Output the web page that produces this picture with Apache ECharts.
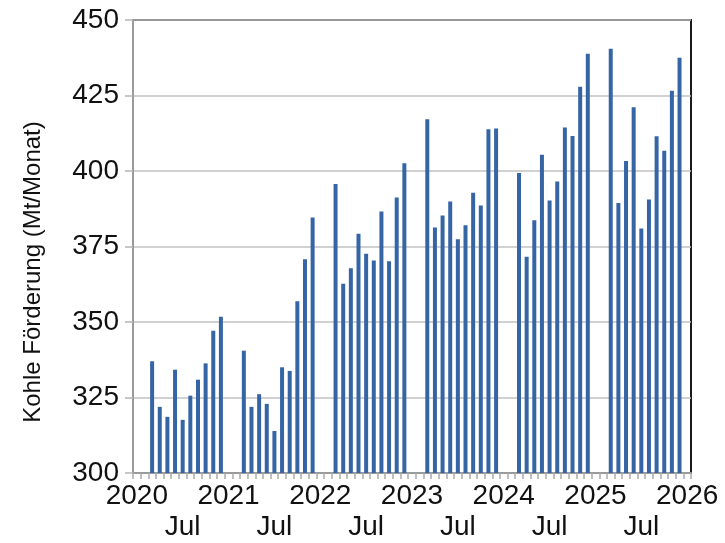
<!DOCTYPE html>
<html>
<head>
<meta charset="utf-8">
<script src="https://cdn.jsdelivr.net/npm/echarts@6/dist/echarts.min.js"></script>
<style>
  html, body { margin: 0; padding: 0; background: #fff; }
  #chart { width: 725px; height: 543px; }
</style>
</head>
<body>
<div id="chart"></div>
<script>
// Monthly coal output (Mt), March–December of each year (Jan/Feb are reported jointly)
const years = [2020, 2021, 2022, 2023, 2024, 2025];
const reportedMonths = [3, 4, 5, 6, 7, 8, 9, 10, 11, 12];
const output2020 = [337.0, 321.9, 318.6, 334.2, 317.6, 325.6, 330.9, 336.3, 347.1, 351.7];
const output2021 = [340.5, 321.9, 326.1, 322.9, 313.9, 335.0, 333.8, 356.9, 370.8, 384.6];
const output2022 = [395.7, 362.7, 367.8, 379.2, 372.6, 370.4, 386.6, 370.1, 391.2, 402.6];
const output2023 = [417.1, 381.3, 385.3, 389.9, 377.4, 382.0, 392.8, 388.6, 413.8, 414.1];
const output2024 = [399.3, 371.6, 383.7, 405.4, 390.2, 396.5, 414.4, 411.6, 427.9, 438.8];
const output2025 = [440.5, 389.4, 403.3, 421.1, 381.0, 390.6, 411.5, 406.7, 426.6, 437.5];
const yTicks = [300, 325, 350, 375, 400, 425, 450];
const axisTitle = 'Kohle Förderung (Mt/Monat)';

const outputByYear = [output2020, output2021, output2022, output2023, output2024, output2025];

// One category per month from Jan 2020 through Jan 2026
const categories = [];
const values = [];
years.forEach((y, yi) => {
  for (let m = 1; m <= 12; m++) {
    categories.push(y + '-' + m);
    const idx = reportedMonths.indexOf(m);
    values.push(idx >= 0 ? outputByYear[yi][idx] : null);
  }
});
categories.push((years[years.length - 1] + 1) + '-1');
values.push(null);

const FONT = '"Liberation Sans", Arial, sans-serif';

const chart = echarts.init(document.getElementById('chart'), null, { renderer: 'canvas' });
chart.setOption({
  animation: false,
  backgroundColor: '#ffffff',
  grid: {
    left: 133, right: 34, top: 20, bottom: 66,
    show: true, borderColor: '#1a1a1a', borderWidth: 2, backgroundColor: 'transparent'
  },
  xAxis: {
    type: 'category',
    data: categories,
    boundaryGap: true,
    axisLine: { show: true, lineStyle: { color: '#9a9a9a', width: 2 } },
    axisTick: { show: true, interval: 0, length: 6, lineStyle: { color: '#aaaaaa', width: 1.5 } },
    axisLabel: {
      interval: 0,
      hideOverlap: false,
      margin: 8,
      color: '#111',
      fontFamily: FONT,
      fontSize: 28,
      lineHeight: 31,
      verticalAlign: 'top',
      formatter: (v) => {
        const [y, m] = v.split('-');
        if (m === '1') return y;
        if (m === '7') return '\nJul';
        return '';
      }
    },
    splitLine: { show: false }
  },
  yAxis: {
    type: 'value',
    min: yTicks[0],
    max: yTicks[yTicks.length - 1],
    interval: yTicks[1] - yTicks[0],
    axisLine: { show: true, lineStyle: { color: '#9a9a9a', width: 2 } },
    axisTick: { show: true, length: 8, lineStyle: { color: '#b5b5b5', width: 1.5 } },
    axisLabel: { margin: 14, color: '#111', fontFamily: FONT, fontSize: 28 },
    splitLine: { show: true, lineStyle: { color: '#c2c2c2', width: 1.5 } }
  },
  graphic: [{
    type: 'text',
    x: 33, y: 272,
    rotation: Math.PI / 2,
    style: {
      text: axisTitle,
      fill: '#111',
      font: '24px ' + FONT,
      textAlign: 'center',
      textVerticalAlign: 'middle'
    }
  }],
  series: [{
    type: 'bar',
    data: values,
    barWidth: 4,
    itemStyle: { color: '#3665a6' }
  }]
});
</script>
</body>
</html>
